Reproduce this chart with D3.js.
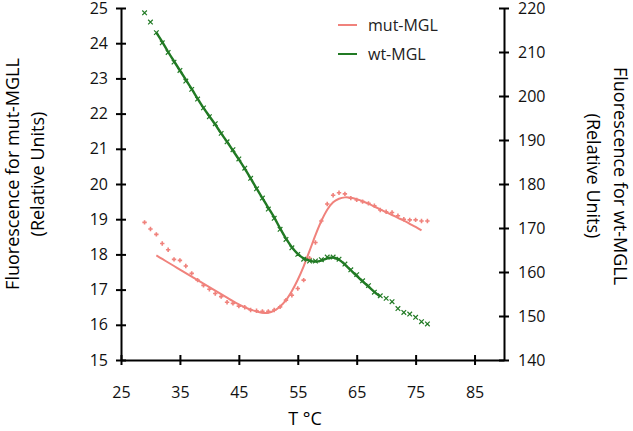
<!DOCTYPE html>
<html>
<head>
<meta charset="utf-8">
<script src="https://cdn.jsdelivr.net/npm/d3@7"></script>
<style>
  body { margin: 0; background: #fff; }
  svg { font-family: "Open Sans", "Noto Sans", sans-serif; }
</style>
</head>
<body>
<svg id="canvas" width="633" height="431"></svg>
<script>
// temperatures of the measured points (deg C)
const temps = [29, 30, 31, 32, 33, 34, 35, 36, 37, 38, 39, 40, 41, 42, 43, 44, 45, 46, 47, 48,
  49, 50, 51, 52, 53, 54, 55, 56, 57, 58, 59, 60, 61, 62, 63, 64, 65, 66, 67, 68,
  69, 70, 71, 72, 73, 74, 75, 76, 77];

// mut-MGL points (left axis)
const mutPoints = [18.91, 18.72, 18.57, 18.31, 18.13, 17.86, 17.83, 17.67, 17.46, 17.27,
  17.12, 17.01, 16.89, 16.80, 16.64, 16.61, 16.53, 16.50, 16.42, 16.40,
  16.38, 16.38, 16.42, 16.51, 16.70, 16.84, 17.03, 17.27, 17.89, 18.34,
  18.95, 19.43, 19.68, 19.75, 19.72, 19.60, 19.55, 19.50, 19.45, 19.38,
  19.26, 19.21, 19.19, 19.10, 19.00, 18.98, 18.98, 18.95, 18.95];

// wt-MGL points (right axis)
const wtPoints = [218.9, 216.8, 214.4, 212.1, 209.9, 207.7, 205.8, 203.4, 201.5, 199.3,
  197.3, 195.3, 193.7, 191.5, 189.6, 187.8, 185.7, 183.6, 181.3, 178.9,
  176.8, 174.3, 172.2, 169.7, 167.4, 165.5, 164.0, 162.9, 162.5, 162.5,
  162.8, 163.4, 163.4, 162.9, 161.8, 160.5, 159.4, 158.0, 156.9, 155.4,
  154.6, 154.0, 153.25, 151.7, 150.8, 150.45, 149.7, 148.7, 148.2];

// fitted curves
const mutFitT = [31, 32, 33, 34, 35, 36, 37, 38, 39, 40, 41, 42, 43, 44, 45, 46, 47, 48, 49, 50,
  51, 52, 53, 54, 55, 56, 57, 58, 59, 60, 61, 62, 63, 64, 65, 66, 67, 68, 69, 70,
  71, 72, 73, 74, 75, 76];
const mutFit = [17.97, 17.87, 17.77, 17.67, 17.57, 17.47, 17.37, 17.27, 17.17, 17.07,
  16.97, 16.87, 16.77, 16.67, 16.58, 16.50, 16.43, 16.38, 16.34, 16.34,
  16.40, 16.52, 16.70, 16.96, 17.28, 17.66, 18.10, 18.55, 18.95, 19.27,
  19.48, 19.58, 19.62, 19.61, 19.57, 19.51, 19.44, 19.36, 19.28, 19.20,
  19.12, 19.04, 18.96, 18.87, 18.78, 18.68];

const wtFitT = [31, 32, 33, 34, 35, 36, 37, 38, 39, 40, 41, 42, 43, 44, 45, 46, 47, 48, 49, 50,
  51, 52, 53, 54, 55, 56, 57, 58, 59, 60, 61, 62, 63, 64, 65, 66, 67, 68, 69];
const wtFit = [214.4, 212.3, 210.0, 207.9, 205.8, 203.7, 201.6, 199.4, 197.3, 195.4,
  193.5, 191.5, 189.6, 187.6, 185.6, 183.5, 181.3, 179.0, 176.8, 174.6,
  172.4, 169.9, 167.6, 165.6, 164.1, 163.1, 162.6, 162.4, 162.6, 163.1,
  163.3, 162.8, 161.7, 160.4, 159.1, 157.9, 156.7, 155.5, 154.4];

const xTicks = [25, 35, 45, 55, 65, 75, 85];
const leftTicks = [15, 16, 17, 18, 19, 20, 21, 22, 23, 24, 25];
const rightTicks = [140, 150, 160, 170, 180, 190, 200, 210, 220];

const mutColor = '#f0827c';
const wtColor = '#217a24';

const svg = d3.select('#canvas');

const x = d3.scaleLinear().domain([25, 90]).range([121, 504]);
const yL = d3.scaleLinear().domain([15, 25]).range([360, 8]);
const yR = d3.scaleLinear().domain([140, 220]).range([360, 8]);

// axes
const gx = svg.append('g').attr('transform', 'translate(0,360)')
  .call(d3.axisBottom(x).tickValues(xTicks).tickSize(5).tickPadding(22).tickSizeOuter(0));
gx.selectAll('.tick line').attr('y1', -5).attr('y2', 5);

const gl = svg.append('g').attr('transform', 'translate(121,0)')
  .call(d3.axisLeft(yL).tickValues(leftTicks).tickSize(5).tickPadding(8).tickSizeOuter(0));
gl.selectAll('.tick line').attr('x1', -5).attr('x2', 5);

const gr = svg.append('g').attr('transform', 'translate(504,0)')
  .call(d3.axisRight(yR).tickValues(rightTicks).tickSize(5).tickPadding(9).tickSizeOuter(0));
gr.selectAll('.tick line').attr('x1', -5).attr('x2', 5);

svg.selectAll('.domain').attr('stroke', '#000').attr('stroke-width', 2);
svg.selectAll('.tick line').attr('stroke', '#000').attr('stroke-width', 2);
svg.selectAll('.tick text')
  .attr('font-size', 16)
  .attr('font-family', '"Open Sans", sans-serif')
  .attr('fill', '#111');

// axis titles
svg.append('text')
  .attr('x', 305).attr('y', 425)
  .attr('text-anchor', 'middle')
  .attr('font-size', 18)
  .text('T °C');

const leftTitle = svg.append('text')
  .attr('transform', 'translate(0,174) rotate(-90)')
  .attr('text-anchor', 'middle')
  .attr('font-size', 18);
leftTitle.append('tspan').attr('x', 0).attr('y', 19).text('Fluorescence for mut-MGLL');
leftTitle.append('tspan').attr('x', 0).attr('y', 44).text('(Relative Units)');

const rightTitle = svg.append('text')
  .attr('transform', 'translate(631,176) rotate(90)')
  .attr('text-anchor', 'middle')
  .attr('font-size', 18);
rightTitle.append('tspan').attr('x', 0).attr('y', 17).text('Fluorescence for wt-MGLL');
rightTitle.append('tspan').attr('x', 0).attr('y', 44).text('(Relative Units)');

// fit lines
const lineL = d3.line().x((d) => x(d[0])).y((d) => yL(d[1])).curve(d3.curveCatmullRom);
const lineR = d3.line().x((d) => x(d[0])).y((d) => yR(d[1])).curve(d3.curveCatmullRom);

svg.append('path')
  .datum(mutFitT.map((t, i) => [t, mutFit[i]]))
  .attr('d', lineL)
  .attr('fill', 'none')
  .attr('stroke', mutColor)
  .attr('stroke-width', 2);

// mut points: small plus marks
svg.selectAll('path.mut')
  .data(temps.map((t, i) => [t, mutPoints[i]]))
  .enter()
  .append('path')
  .attr('class', 'mut')
  .attr('d', (d) => {
    const cx = x(d[0]), cy = yL(d[1]);
    return `M${cx - 2.2},${cy}H${cx + 2.2}M${cx},${cy - 2.2}V${cy + 2.2}`;
  })
  .attr('stroke', mutColor)
  .attr('stroke-width', 1.6);

// wt points: small x marks
svg.selectAll('path.wt')
  .data(temps.map((t, i) => [t, wtPoints[i]]))
  .enter()
  .append('path')
  .attr('class', 'wt')
  .attr('d', (d) => {
    const cx = x(d[0]), cy = yR(d[1]);
    return `M${cx - 2.3},${cy - 2.3}L${cx + 2.3},${cy + 2.3}M${cx - 2.3},${cy + 2.3}L${cx + 2.3},${cy - 2.3}`;
  })
  .attr('stroke', wtColor)
  .attr('stroke-width', 1.2);

svg.append('path')
  .datum(wtFitT.map((t, i) => [t, wtFit[i]]))
  .attr('d', lineR)
  .attr('fill', 'none')
  .attr('stroke', wtColor)
  .attr('stroke-width', 2.4);

// legend
const legend = [['mut-MGL', mutColor, 25], ['wt-MGL', wtColor, 54]];
legend.forEach((d) => {
  svg.append('line')
    .attr('x1', 338).attr('x2', 357)
    .attr('y1', d[2]).attr('y2', d[2])
    .attr('stroke', d[1]).attr('stroke-width', 2);
  svg.append('text')
    .attr('x', 368).attr('y', d[2])
    .attr('dy', '0.35em')
    .attr('font-size', 16)
    .attr('fill', '#222')
    .text(d[0]);
});
</script>
</body>
</html>
